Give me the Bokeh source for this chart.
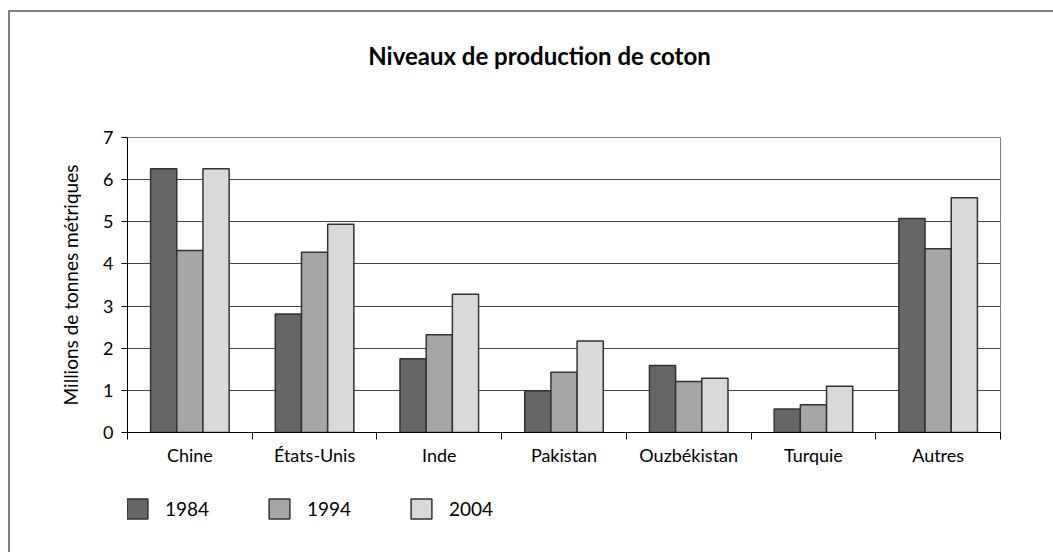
from bokeh.plotting import figure
from bokeh.layouts import column
from bokeh.models import (Range1d, FixedTicker, Legend, LegendItem, Label, ColumnDataSource)
from bokeh.transform import dodge
from bokeh.embed import file_html
from bokeh.resources import INLINE

categories = ["Chine", "États-Unis", "Inde", "Pakistan", "Ouzbékistan", "Turquie", "Autres"]
years = ["1984", "1994", "2004"]
v1984 = [6.26, 2.81, 1.75, 0.99, 1.59, 0.56, 5.08]
v1994 = [4.32, 4.28, 2.32, 1.43, 1.21, 0.66, 4.36]
v2004 = [6.26, 4.94, 3.28, 2.17, 1.29, 1.10, 5.57]
colors = ["#666666", "#a6a6a6", "#d9d9d9"]
y_ticks = [0, 1, 2, 3, 4, 5, 6, 7]
title_text = "Niveaux de production de coton"

FONT = "Lato"
W = 1043

centers = [i + 0.5 for i in range(len(categories))]
source = ColumnDataSource(dict(x=centers, y1984=v1984, y1994=v1994, y2004=v2004))


def blank(h):
    f = figure(width=W, height=h, output_backend="svg", toolbar_location=None,
               x_axis_location=None, y_axis_location=None,
               x_range=Range1d(0, 1), y_range=Range1d(0, 1),
               min_border=0)
    f.outline_line_color = None
    f.xgrid.grid_line_color = None
    f.ygrid.grid_line_color = None
    return f


# ---- title strip
p0 = blank(100)
p0.add_layout(Label(x=412, y=57, x_units="screen", y_units="screen", text=title_text,
                    text_align="center", text_baseline="middle", text_font=FONT,
                    text_font_size="24px", text_font_style="bold", text_color="black"))

# ---- main chart
p = figure(width=W, height=370, output_backend="svg", toolbar_location=None,
           x_range=Range1d(0, len(categories)), y_range=Range1d(0, 7),
           min_border_left=117, min_border_right=53, min_border_top=25, min_border_bottom=50)
p.outline_line_color = "#808080"
p.outline_line_width = 1

renderers = []
for yr, col, off in zip(years, colors, [-0.21, 0.0, 0.21]):
    r = p.vbar(x=dodge("x", off, range=p.x_range), top="y" + yr, width=0.21, source=source,
               fill_color=col, line_color="#333333", line_width=1.5)
    renderers.append(r)

xa = p.xaxis[0]
xa.ticker = FixedTicker(ticks=centers, minor_ticks=list(range(len(categories) + 1)))
xa.major_label_overrides = {c: name for c, name in zip(centers, categories)}
xa.major_tick_line_color = None
xa.major_tick_out = 0
xa.major_tick_in = 0
xa.minor_tick_out = 7
xa.minor_tick_in = 0
xa.minor_tick_line_color = "black"
xa.axis_line_color = "black"
xa.major_label_standoff = 4
xa.major_label_text_font = FONT
xa.major_label_text_font_size = "18px"
xa.major_label_text_color = "black"

ya = p.yaxis[0]
ya.ticker = FixedTicker(ticks=y_ticks)
ya.minor_tick_line_color = None
ya.major_tick_out = 6
ya.major_tick_in = 0
ya.major_tick_line_color = "black"
ya.axis_line_color = "black"
ya.major_label_standoff = 8
ya.major_label_text_font = FONT
ya.major_label_text_font_size = "18px"
ya.major_label_text_color = "black"
ya.axis_label = "Millions de tonnes métriques"
ya.axis_label_text_font = FONT
ya.axis_label_text_font_size = "19px"
ya.axis_label_text_font_style = "normal"
ya.axis_label_text_color = "black"
ya.axis_label_standoff = 18

p.xgrid.grid_line_color = None
p.ygrid.grid_line_color = "#444444"
p.ygrid.grid_line_width = 1

# ---- legend strip
p2 = blank(70)
p2.min_border_left = 117
leg_renderers = []
for yr, col in zip(years, colors):
    r = p2.vbar(x=dodge("x", 0, range=p2.x_range), top="y" + yr, width=0.21, source=source,
                fill_color=col, line_color="#333333", line_width=1.5, visible=False)
    leg_renderers.append(r)

legend = Legend(items=[LegendItem(label=yr, renderers=[r]) for yr, r in zip(years, leg_renderers)],
                orientation="horizontal", location=(-3, 31),
                glyph_width=26, glyph_height=25, label_standoff=15, label_width=100,
                spacing=1, padding=0, margin=0,
                border_line_color=None, background_fill_alpha=0,
                label_text_font=FONT, label_text_font_size="19px", label_text_color="black")
p2.add_layout(legend)

layout = column(p0, p, p2, spacing=0,
                styles={"border-top": "2px solid #808080", "border-left": "2px solid #808080",
                        "margin-top": "10px", "margin-left": "8px"})

open("out.html", "w").write(file_html(layout, INLINE))
